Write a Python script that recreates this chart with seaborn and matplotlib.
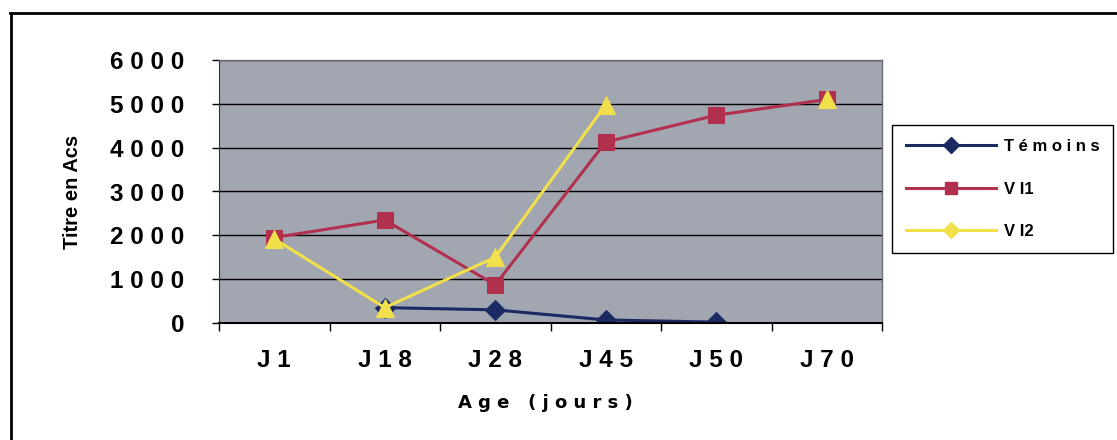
import numpy as np
import pandas as pd
import matplotlib
matplotlib.use("Agg")
import matplotlib.pyplot as plt
import seaborn as sns
from matplotlib.lines import Line2D
from matplotlib.colors import to_hex

# ---- data ----
categories = ["J1", "J18", "J28", "J45", "J50", "J70"]
temoins = [np.nan, 350, 300, 70, 20, np.nan]
vi1 = [1950, 2350, 870, 4130, 4740, 5100]
vi2 = [1920, 350, 1500, 4980, np.nan, 5100]
series_names = ["Témoins", "V I1", "V I2"]
y_ticks = [0, 1000, 2000, 3000, 4000, 5000, 6000]
x_title = "Age (jours)"
y_title = "Titre en Acs"

colors = {"Témoins": "#1b2a63", "V I1": "#b0304e", "V I2": "#f1e04c"}
markers = {"Témoins": "D", "V I1": "s", "V I2": "^"}
msizes = {"Témoins": 10.5, "V I1": 11, "V I2": 13}

# long-form frame, segment id marks gaps (Excel-style broken lines)
rows = []
for name, vals in zip(series_names, [temoins, vi1, vi2]):
    seg = 0
    for i, v in enumerate(vals):
        if np.isnan(v):
            seg += 1
            continue
        rows.append({"pos": i, "value": v, "series": name, "seg": f"{name}-{seg}"})
df = pd.DataFrame(rows)

def spaced(s):
    return " ".join(s)

W, H = 1117, 440
fig = plt.figure(figsize=(W / 100, H / 100), dpi=100)
ax = fig.add_axes([219 / W, 1 - 323 / H, (882 - 219) / W, (323 - 60) / H])
ax.set_facecolor("#a2a6b0")

sns.lineplot(data=df, x="pos", y="value", hue="series", style="series",
             units="seg", estimator=None, hue_order=series_names,
             style_order=series_names, palette=colors, markers=markers,
             dashes=False, linewidth=2.2, markersize=10,
             legend=False, ax=ax, sort=True)

col2name = {to_hex(c): n for n, c in colors.items()}
for ln in ax.lines:
    n = col2name.get(to_hex(ln.get_color()))
    if n:
        ln.set_markeredgecolor(colors[n])
        ln.set_markersize(msizes[n])

ax.set_xlim(-0.5, len(categories) - 0.5)
ax.set_ylim(0, 6000)
ax.set_yticks(y_ticks)
ax.set_yticklabels([spaced(str(t)) for t in y_ticks])
ax.set_xticks(range(len(categories)))
ax.set_xticklabels([spaced(c) for c in categories])
ax.set_xticks(np.arange(-0.5, len(categories), 1.0), minor=True)
ax.tick_params(axis="x", which="major", length=0, pad=18.5)
ax.tick_params(axis="x", which="minor", length=6, width=1, direction="out", color="black")
ax.tick_params(axis="y", length=5, width=1, direction="out", color="black", pad=20)
for lab in ax.get_xticklabels() + ax.get_yticklabels():
    lab.set_fontfamily("Liberation Sans")
    lab.set_fontweight("bold")
    lab.set_fontsize(17.5)
ax.yaxis.grid(True, color="black", linewidth=1)
ax.set_axisbelow(True)
ax.set_xlabel("")
ax.set_ylabel("")
for side in ["top", "right"]:
    ax.spines[side].set_color("#6a6d75")
    ax.spines[side].set_linewidth(1)
ax.spines["left"].set_color("#333333")
ax.spines["bottom"].set_color("black")
ax.spines["bottom"].set_linewidth(1.5)

fig.text(545 / W, 1 - 403 / H, spaced(x_title), ha="center", va="center",
         fontfamily="DejaVu Sans", fontweight="bold", fontsize=13)
fig.text(73 / W, 1 - 192 / H, y_title, rotation=90, ha="center", va="center",
         fontfamily="Liberation Sans", fontweight="bold", fontsize=14.5)

handles = [Line2D([], [], color=colors[n], marker=markers[n] if n != "V I2" else "D",
                  markeredgecolor=colors[n], markersize=8, linewidth=2.2) for n in series_names]
leg_labels = [spaced(series_names[0]), series_names[1], series_names[2]]
leg = fig.legend(handles, leg_labels, loc="upper left",
                 bbox_to_anchor=(892 / W, 1 - 125 / H), borderaxespad=0,
                 frameon=True, fancybox=False, edgecolor="black", framealpha=1,
                 handlelength=5.4, handletextpad=0.45, labelspacing=1.65,
                 borderpad=0.85, prop={"family": "Liberation Sans", "weight": "bold", "size": 12})
leg.get_frame().set_linewidth(1)

# outer frame
fig.add_artist(Line2D([10.5 / W, 10.5 / W], [0, 1 - 13 / H], color="black", linewidth=2,
                      transform=fig.transFigure))
fig.add_artist(Line2D([10 / W, 1], [1 - 13 / H, 1 - 13 / H], color="black", linewidth=2,
                      transform=fig.transFigure))

fig.savefig("out.png", dpi=100)
